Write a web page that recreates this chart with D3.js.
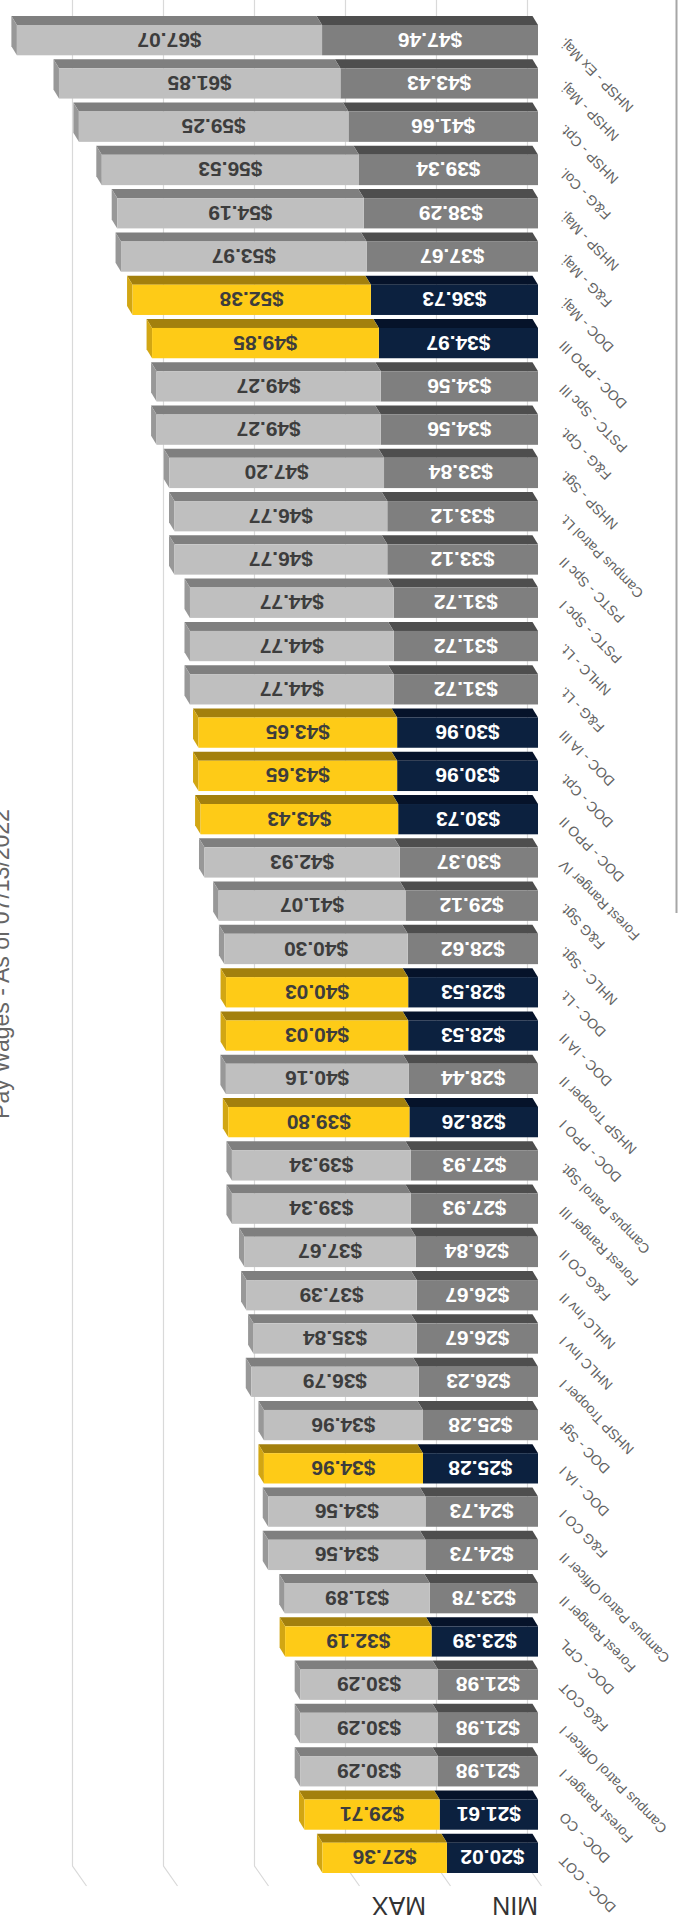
<!DOCTYPE html>
<html>
<head>
<meta charset="utf-8">
<script src="https://cdn.jsdelivr.net/npm/d3@7"></script>
<style>
	body { margin: 0; background: #fff; }
	svg { display: block; }
	text { font-family: "Liberation Sans", Arial, sans-serif; }
</style>
</head>
<body>
<svg id="chart"></svg>
<script>
// the whole chart is drawn upside down, like the picture it was copied from

var categories = [
	'NHSP - Ex Maj.', 'NHSP - Maj.', 'NHSP - Cpt.', 'F&G - Col.', 'NHSP - Maj.',
	'F&G - Maj.', 'DOC - Maj.', 'DOC - PPO III', 'PSTC - Spc III', 'F&G - Cpt.',
	'NHSP - Sgt.', 'Campus Patrol Lt.', 'PSTC - Spc II', 'PSTC - Spc I', 'NHLC - Lt.',
	'F&G - Lt.', 'DOC - IA III', 'DOC - Cpt.', 'DOC - PPO II', 'Forest Ranger IV',
	'F&G Sgt.', 'NHLC - Sgt.', 'DOC - Lt.', 'DOC - IA II', 'NHSP Trooper II',
	'DOC - PPO I', 'Campus Patrol Sgt.', 'Forest Ranger III', 'F&G CO II', 'NHLC Inv II',
	'NHLC Inv I', 'NHSP Trooper I', 'DOC - Sgt', 'DOC - IA I', 'F&G CO I',
	'Campus Patrol Officer II', 'Forest Ranger II', 'DOC - CPL', 'F&G COT', 'Campus Patrol Officer I',
	'Forest Ranger I', 'DOC - CO', 'DOC - COT'
];

var minWage = [
	47.46, 43.43, 41.66, 39.34, 38.29, 37.67, 36.73, 34.97, 34.56, 34.56,
	33.84, 33.12, 33.12, 31.72, 31.72, 31.72, 30.96, 30.96, 30.73, 30.37,
	29.12, 28.62, 28.53, 28.53, 28.44, 28.26, 27.93, 27.93, 26.84, 26.67,
	26.67, 26.23, 25.28, 25.28, 24.73, 24.73, 23.78, 23.39, 21.98, 21.98,
	21.98, 21.61, 20.02
];

var maxWage = [
	67.07, 61.85, 59.25, 56.53, 54.19, 53.97, 52.38, 49.85, 49.27, 49.27,
	47.20, 46.77, 46.77, 44.77, 44.77, 44.77, 43.65, 43.65, 43.43, 42.93,
	41.07, 40.30, 40.03, 40.03, 40.16, 39.80, 39.34, 39.34, 37.67, 37.39,
	35.84, 36.79, 34.96, 34.96, 34.56, 34.56, 31.89, 32.19, 30.29, 30.29,
	30.29, 29.71, 27.36
];

// the DOC rows that are picked out in navy and gold
var highlighted = [
	0, 0, 0, 0, 0, 0, 1, 1, 0, 0,
	0, 0, 0, 0, 0, 0, 1, 1, 1, 0,
	0, 0, 1, 1, 0, 1, 0, 0, 0, 0,
	0, 0, 0, 1, 0, 0, 0, 1, 0, 0,
	0, 1, 1
];

var series = ['MIN', 'MAX'];
var gridTicks = [0, 20, 40, 60, 80, 100];
var title = 'Pay Wages - As of 07/13/2022';

var width = 678,
	height = 1932;

// depth of the 3d bars
var dx = -5.5,
	dy = -9;

var colors = {
	plain: {minFront: '#7f7f7f', minTop: '#4e4e4e', maxFront: '#bfbfbf', maxTop: '#7f7f7f', maxSide: '#989898'},
	hl: {minFront: '#0c213f', minTop: '#06132a', maxFront: '#fecb17', maxTop: '#a3800d', maxSide: '#d2a613'}
};

var svg = d3.select('#chart')
	.attr('width', width)
	.attr('height', height);

// value axis runs from right to left
var x = d3.scaleLinear().domain([0, 100]).range([538, 83]);

var y = d3.scaleBand()
	.domain(d3.range(categories.length))
	.range([25, 1873])
	.paddingInner(0.3)
	.paddingOuter(0);

var bh = y.bandwidth();

var data = categories.map(function(c, i) {
	return {i: i, name: c, min: minWage[i], max: maxWage[i], total: minWage[i] + maxWage[i],
		col: highlighted[i] ? colors.hl : colors.plain};
});

// grid lines on the back wall, with a little foot on the floor
var grid = svg.append('g');
grid.selectAll('path')
	.data(gridTicks)
	.enter().append('path')
	.attr('d', function(t) {
		var gx = x(t) - 10.5;
		return 'M' + gx + ',0 L' + gx + ',1866 L' + (gx + 14) + ',1886';
	})
	.attr('fill', 'none')
	.attr('stroke', '#d9d9d9')
	.attr('stroke-width', 1.2);

function poly(pts) {
	return pts.map(function(p) { return p.join(','); }).join(' ');
}

var bar = svg.selectAll('g.bar')
	.data(data)
	.enter().append('g')
	.attr('class', 'bar');

// top faces
bar.append('polygon')
	.attr('points', function(d) {
		var t = y(d.i), a = x(0), b = x(d.min);
		return poly([[a, t], [b, t], [b + dx, t + dy], [a + dx, t + dy]]);
	})
	.attr('fill', function(d) { return d.col.minTop; });

bar.append('polygon')
	.attr('points', function(d) {
		var t = y(d.i), a = x(d.min), b = x(d.total);
		return poly([[a, t], [b, t], [b + dx, t + dy], [a + dx, t + dy]]);
	})
	.attr('fill', function(d) { return d.col.maxTop; });

// end face of the max part
bar.append('polygon')
	.attr('points', function(d) {
		var t = y(d.i), b = x(d.total);
		return poly([[b, t], [b, t + bh], [b + dx, t + bh + dy], [b + dx, t + dy]]);
	})
	.attr('fill', function(d) { return d.col.maxSide; });

// front faces
bar.append('rect')
	.attr('x', function(d) { return x(d.min); })
	.attr('y', function(d) { return y(d.i); })
	.attr('width', function(d) { return x(0) - x(d.min); })
	.attr('height', bh)
	.attr('fill', function(d) { return d.col.minFront; });

bar.append('rect')
	.attr('x', function(d) { return x(d.total); })
	.attr('y', function(d) { return y(d.i); })
	.attr('width', function(d) { return x(d.min) - x(d.total); })
	.attr('height', bh)
	.attr('fill', function(d) { return d.col.maxFront; });

// value labels, upside down
bar.append('text')
	.attr('transform', function(d) {
		return 'translate(' + (x(0) + x(d.min)) / 2 + ',' + (y(d.i) + bh / 2) + ') rotate(180)';
	})
	.attr('text-anchor', 'middle')
	.attr('dominant-baseline', 'central')
	.style('font-weight', 'bold')
	.style('font-size', '21px')
	.attr('fill', '#ffffff')
	.text(function(d) { return '$' + d.min.toFixed(2); });

bar.append('text')
	.attr('transform', function(d) {
		return 'translate(' + (x(d.min) + x(d.total)) / 2 + ',' + (y(d.i) + bh / 2) + ') rotate(180)';
	})
	.attr('text-anchor', 'middle')
	.attr('dominant-baseline', 'central')
	.style('font-weight', 'bold')
	.style('font-size', '21px')
	.attr('fill', '#3d3d3d')
	.text(function(d) { return '$' + d.max.toFixed(2); });

// category labels, slanted
svg.append('g').selectAll('text')
	.data(data)
	.enter().append('text')
	.attr('transform', function(d) {
		return 'translate(565,' + (y(d.i) + bh / 2 - 3) + ') rotate(225)';
	})
	.attr('text-anchor', 'end')
	.style('font-size', '14px')
	.attr('fill', '#636363')
	.text(function(d) { return d.name; });

// MIN / MAX headers
var legendX = [x(0), 426];
svg.append('g').selectAll('text')
	.data(series)
	.enter().append('text')
	.attr('transform', function(d, i) { return 'translate(' + legendX[i] + ',1897) rotate(180)'; })
	.attr('text-anchor', 'start')
	.style('font-size', '25px')
	.attr('fill', '#333333')
	.text(function(d) { return d; });

// title along the left edge
svg.append('text')
	.attr('transform', 'translate(9,964) rotate(-90)')
	.attr('text-anchor', 'middle')
	.style('font-size', '23px')
	.attr('fill', '#666666')
	.text(title);

// frame line on the right
svg.append('line')
	.attr('x1', 676.5).attr('x2', 676.5)
	.attr('y1', 0).attr('y2', 913)
	.attr('stroke', '#a6a6a6')
	.attr('stroke-width', 2);
</script>
</body>
</html>
